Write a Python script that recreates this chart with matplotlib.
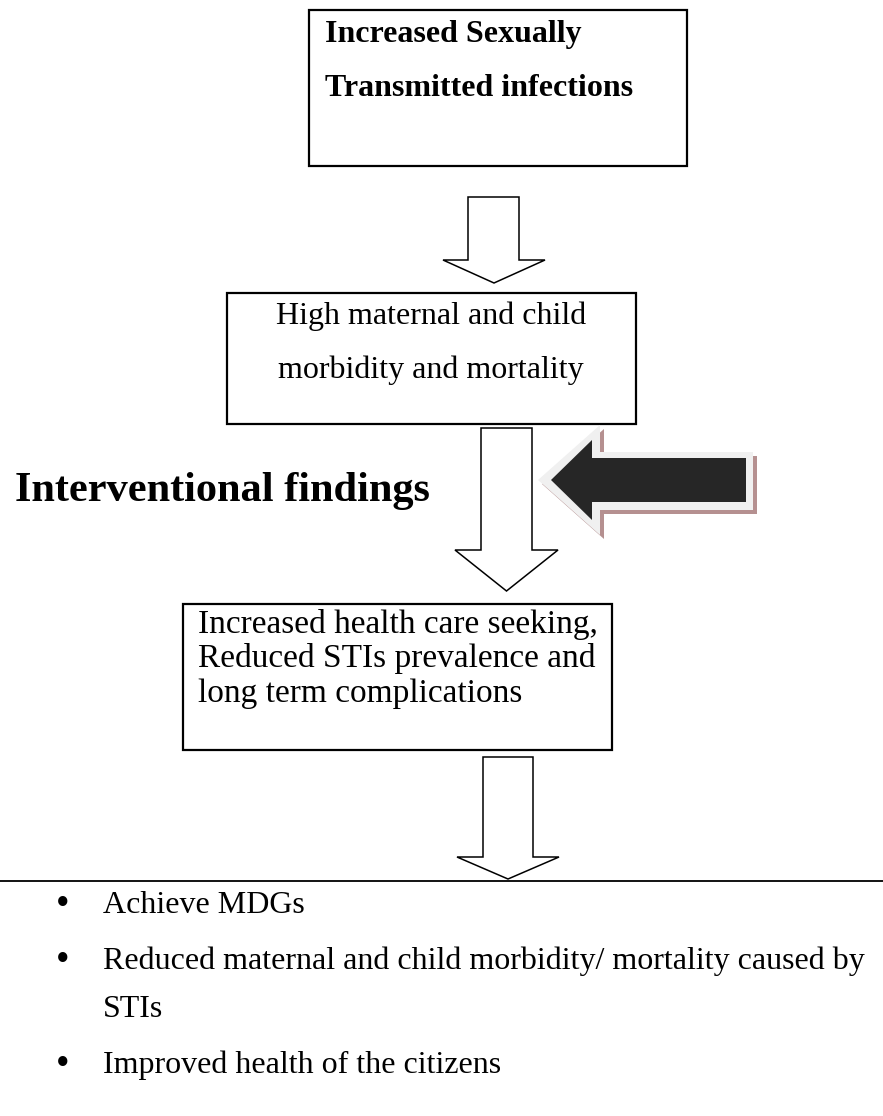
import matplotlib
matplotlib.use("Agg")
import matplotlib.pyplot as plt
from matplotlib.patches import Polygon, Rectangle

plt.rcParams['font.family'] = ['Liberation Serif', 'DejaVu Serif']

# texts of the flow chart
top_lines = ["Increased Sexually", "Transmitted infections"]
mid_lines = ["High maternal and child", "morbidity and mortality"]
low_lines = ["Increased health care seeking,", "Reduced STIs prevalence and", "long term complications"]
side_label = "Interventional findings"
bullets = [["Achieve MDGs"],
           ["Reduced maternal and child morbidity/ mortality caused by", "STIs"],
           ["Improved health of the citizens"]]

W, H = 883, 1116
fig = plt.figure(figsize=(W / 100, H / 100), dpi=100)
ax = fig.add_axes([0, 0, 1, 1])
ax.set_xlim(0, W)
ax.set_ylim(H, 0)
ax.axis('off')


def box(x0, y0, x1, y1):
    ax.add_patch(Rectangle((x0, y0), x1 - x0, y1 - y0, fill=False, ec='black', lw=1.6, zorder=2))


def down_arrow(x0, x1, top, sh, wx0, wx1, tip):
    tx = (wx0 + wx1) / 2
    pts = [(x0, top), (x1, top), (x1, sh), (wx1, sh), (tx, tip), (wx0, sh), (x0, sh)]
    ax.add_patch(Polygon(pts, closed=True, fc='white', ec='black', lw=1.1, joinstyle='miter', zorder=2))


# box 1
box(309, 10, 687, 166)
for i, s in enumerate(top_lines):
    ax.text(325, 42 + i * 54, s, fontsize=23, fontweight='bold', va='baseline', ha='left')

down_arrow(468, 519, 197, 260, 443, 545, 283)

# box 2
box(227, 293, 636, 424)
for i, s in enumerate(mid_lines):
    ax.text(431, 324 + i * 54, s, fontsize=23, va='baseline', ha='center')

down_arrow(481, 532, 428, 550, 455, 558, 591)

ax.text(15, 501, side_label, fontsize=30.5, fontweight='bold', va='baseline', ha='left')

# black block arrow with light outline and shadow
outer = [(538, 480), (600, 425), (600, 452), (753, 452), (753, 510), (600, 510), (600, 535)]
shadow = [(x + 4, y + 4) for x, y in outer]
inner = [(551, 480), (592, 440), (592, 458), (746, 458), (746, 502), (592, 502), (592, 520)]
ax.add_patch(Polygon(shadow, closed=True, fc='#b59090', ec='none', zorder=3))
ax.add_patch(Polygon(outer, closed=True, fc='#f0f0f0', ec='none', zorder=4))
ax.add_patch(Polygon(inner, closed=True, fc='#262626', ec='none', zorder=5))

# box 3
box(183, 604, 612, 750)
for i, s in enumerate(low_lines):
    ax.text(198, 633 + i * 34.5, s, fontsize=24, va='baseline', ha='left')

down_arrow(483, 533, 757, 857, 457, 559, 879)

ax.plot([0, W], [881, 881], color='black', lw=1.3, solid_capstyle='butt')

# bullet list
y = 913
for para in bullets:
    ax.text(63, y - 8, "\u2022", fontsize=28, va='center', ha='center')
    for j, s in enumerate(para):
        ax.text(103, y, s, fontsize=23, va='baseline', ha='left')
        if j < len(para) - 1:
            y += 48
    y += 56

fig.savefig('out.png', dpi=100)
